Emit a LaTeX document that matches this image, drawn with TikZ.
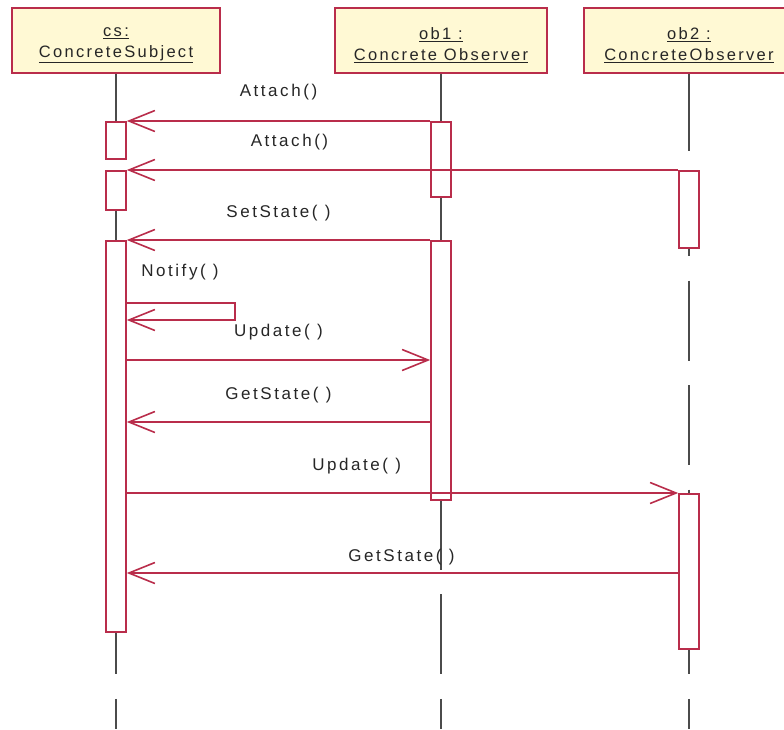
\documentclass[tikz,border=0pt]{standalone}
\usepackage{fontspec}
\newfontfamily\lbl{Liberation Sans}[LetterSpace=15]
\newfontfamily\hlbl{Liberation Sans}[LetterSpace=14]
\usetikzlibrary{arrows.meta}
\definecolor{umlred}{RGB}{185,45,75}
\definecolor{umlfill}{RGB}{255,249,212}
\definecolor{lifegray}{RGB}{75,75,75}
\begin{document}
\begin{tikzpicture}[x=1pt,y=-1pt,
  head/.style={draw=umlred, fill=umlfill, line width=1.8pt, minimum height=65pt, inner sep=0pt},
  htext/.style={align=center, font=\hlbl\fontsize{16.5}{21}\selectfont, text=black!85, yshift=-4.5pt, inner sep=0pt},
  act/.style={draw=umlred, fill=white, line width=1.6pt, minimum width=20pt, inner sep=0pt, anchor=north},
  msg/.style={draw=umlred, line width=1.6pt, -{Straight Barb[length=26pt,width=21pt]}},
  life/.style={draw=lifegray, line width=1.4pt, dash pattern=on 80pt off 24.6pt, dash phase=2.6pt},
  lab/.style={font=\lbl\fontsize{17}{20}\selectfont, text=black!85, inner sep=0pt}]
\useasboundingbox (0,0) rectangle (784,729);
\coordinate (bot) at (0,729);
% headers
\node[head, minimum width=208pt, label={[htext]center:\underline{cs:}\\\underline{ConcreteSubject}}] (cs) at (116,40.5) {};
\node[head, minimum width=212pt, label={[htext]center:\underline{ob1 :}\\\underline{Concrete Observer}}] (ob1) at (441,40.5) {};
\node[head, minimum width=210pt, label={[htext]center:\underline{ob2 :}\\\underline{ConcreteObserver}}] (ob2) at (689,40.5) {};
% lifelines
\draw[life] (cs.south) -- (cs.south |- bot);
\draw[life] (ob1.south) -- (ob1.south |- bot);
\draw[life] (ob2.south) -- (ob2.south |- bot);
% activations
\node[act, minimum height=37pt] (cs1) at (116,121) {};
\node[act, minimum height=39pt] (cs2) at (116,170) {};
\node[act, minimum height=391pt] (cs3) at (116,240) {};
\node[act, minimum height=75pt] (o1a) at (441,121) {};
\node[act, minimum height=259pt] (o1b) at (441,240) {};
\node[act, minimum height=77pt] (o2a) at (689,170) {};
\node[act, minimum height=155pt] (o2b) at (689,493) {};
% message levels
\coordinate (nA) at (0,303);
\coordinate (nB) at (0,320);
\coordinate (u1) at (0,360);
\coordinate (g1) at (0,422);
\coordinate (u2) at (0,493);
\coordinate (g2) at (0,573);
% messages
\draw[msg] (o1a.north west) -- node[lab, pos=0.5, yshift=29pt] {Attach()} (cs1.north east);
\draw[msg] (o2a.north west) -- node[lab, pos=0.705, yshift=28pt] {Attach()} (cs2.north east);
\draw[msg] (o1b.north west) -- node[lab, pos=0.5, yshift=27pt] {SetState( )} (cs3.north east);
\draw[msg] (cs3.east |- nA) -- ++(108,0) -- ++(0,17) -- (cs3.east |- nB);
\node[lab] (notify) at (180,272) {Notify( )};
\draw[msg] (cs3.east |- u1) -- node[lab, pos=0.5, yshift=28pt] {Update( )} (o1b.west |- u1);
\draw[msg] (o1b.west |- g1) -- node[lab, pos=0.5, yshift=27pt] {GetState( )} (cs3.east |- g1);
\draw[msg] (cs3.east |- u2) -- node[lab, pos=0.417, yshift=27pt] {Update( )} (o2b.north west);
\draw[msg] (o2b.west |- g2) -- node[lab, pos=0.502, yshift=16pt] {GetState( )} (cs3.east |- g2);
\end{tikzpicture}
\end{document}
